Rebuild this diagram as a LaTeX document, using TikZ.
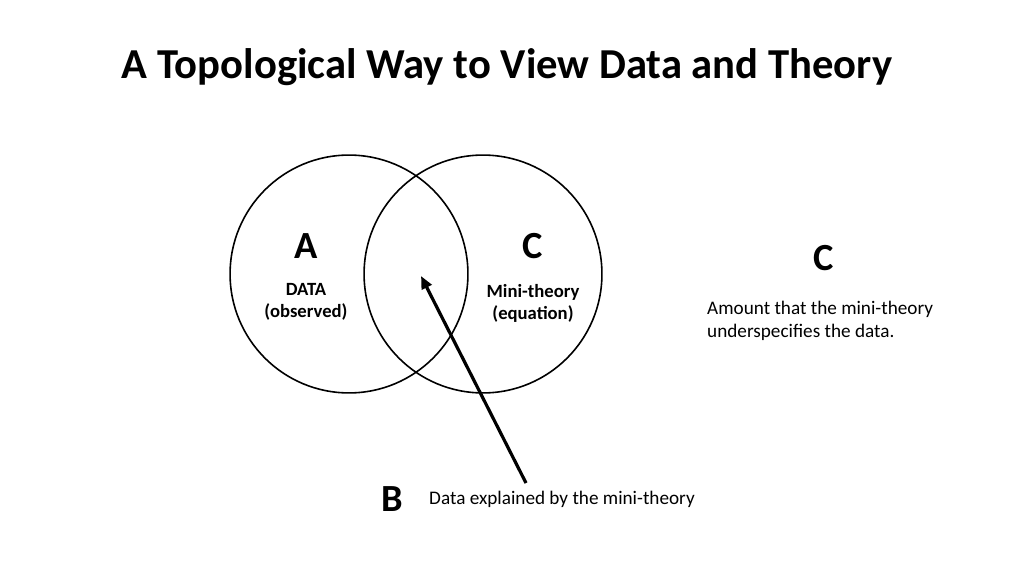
\documentclass[tikz,border=0pt]{standalone}
\usepackage{fontspec}
\setmainfont{Carlito}
\usepackage{tikz}
\usetikzlibrary{arrows.meta,positioning}

\begin{document}
\begin{tikzpicture}[x=0.9375pt, y=-0.9375pt]
\tikzset{set/.style={draw, circle, line width=1.5pt, minimum size=223pt, inner sep=0pt},
  letter/.style={font=\fontsize{36}{42}\selectfont\bfseries, inner sep=0pt},
  setlabel/.style={font=\fontsize{17.5}{20.6}\selectfont\bfseries, align=center, inner sep=0pt},
  note/.style={font=\fontsize{18}{21.6}\selectfont, align=left, inner sep=0pt}}
\useasboundingbox (0,0) rectangle (1024,576);
\node[font=\fontsize{40}{46}\selectfont\bfseries, inner sep=0pt] (title) at (507,67) {A Topological Way to View Data and Theory};
\node[set] (data) at (349,274) {};
\node[set] (theory) at (483,274) {};
\node[letter] (a) at (306,246) {A};
\node[letter] (c) at (533,246) {C};
\node[setlabel] (datalbl) at (306,302) {DATA\\(observed)};
\node[setlabel] (theorylbl) at (533,303) {Mini-theory\\(equation)};
\node[letter] (cright) at (824,258) {C};
\node[note, anchor=west] (amount) at (707,321) {Amount that the mini-theory\\underspecifies the data.};
\node[letter] (b) at (392,499) {B};
\node[note, anchor=west] (explained) at (429,499) {Data explained by the mini-theory};
\coordinate (btail) at (526,483);
\coordinate (btip) at (421,276);
\draw[line width=3pt, -{Triangle[length=12pt, width=10pt]}] (btail) -- (btip);
\end{tikzpicture}
\end{document}
